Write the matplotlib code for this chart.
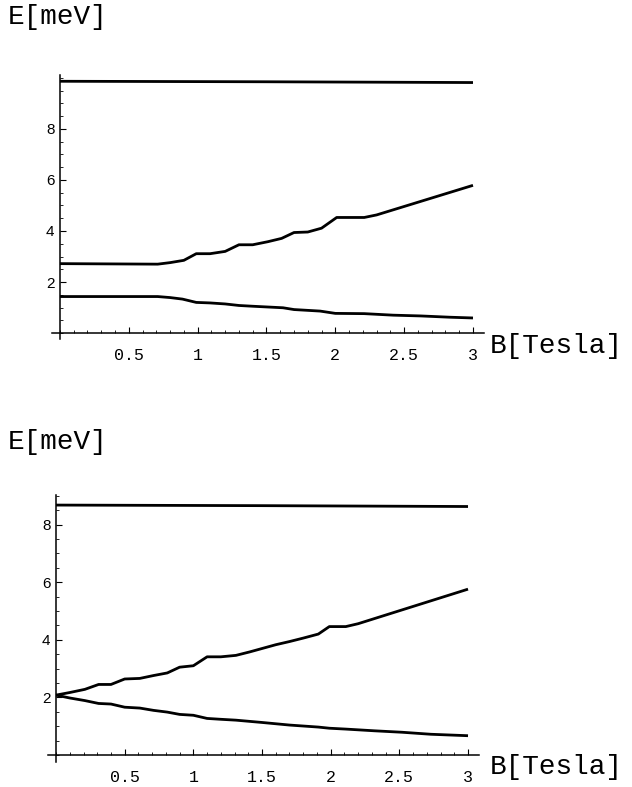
#!/usr/bin/env python3
"""Energy levels E[meV] versus magnetic field B[Tesla], two panels."""

import numpy as np
import matplotlib
matplotlib.use("Agg")
import matplotlib.pyplot as plt
from matplotlib.ticker import MultipleLocator, FixedLocator

# ---- panel 1 (top) -------------------------------------------------------
top_level_b = [0.0, 1.5, 3.0]
top_level_e = [9.87, 9.85, 9.82]

top_mid_b = [0.0, 0.71, 0.80, 0.90, 0.99, 1.09, 1.20, 1.30, 1.40, 1.51,
             1.61, 1.70, 1.80, 1.90, 2.01, 2.21, 2.30, 3.0]
top_mid_e = [2.72, 2.70, 2.76, 2.85, 3.11, 3.11, 3.20, 3.46, 3.46, 3.58,
             3.71, 3.94, 3.96, 4.11, 4.53, 4.53, 4.63, 5.79]

top_low_b = [0.0, 0.71, 0.80, 0.89, 0.99, 1.09, 1.20, 1.30, 1.40, 1.62,
             1.70, 1.89, 2.00, 2.21, 2.42, 2.62, 2.83, 3.0]
top_low_e = [1.43, 1.43, 1.39, 1.33, 1.20, 1.18, 1.14, 1.08, 1.05, 0.99,
             0.92, 0.86, 0.77, 0.76, 0.70, 0.67, 0.62, 0.59]

# ---- panel 2 (bottom) ----------------------------------------------------
bot_level_b = [0.0, 1.5, 3.0]
bot_level_e = [8.68, 8.66, 8.63]

bot_up_b = [0.0, 0.10, 0.21, 0.31, 0.40, 0.50, 0.61, 0.71, 0.81, 0.90,
            1.00, 1.10, 1.20, 1.31, 1.41, 1.60, 1.70, 1.80, 1.91, 1.99,
            2.11, 2.20, 3.0]
bot_up_e = [2.08, 2.17, 2.28, 2.45, 2.45, 2.64, 2.66, 2.76, 2.85, 3.05,
            3.10, 3.41, 3.41, 3.46, 3.58, 3.83, 3.94, 4.06, 4.20, 4.46,
            4.46, 4.56, 5.76]

bot_down_b = [0.0, 0.10, 0.21, 0.31, 0.40, 0.50, 0.61, 0.71, 0.81, 0.90,
              1.00, 1.10, 1.20, 1.31, 1.50, 1.70, 1.91, 1.99, 2.11, 2.32,
              2.52, 2.73, 3.0]
bot_down_e = [2.08, 1.98, 1.89, 1.79, 1.77, 1.66, 1.63, 1.55, 1.49, 1.41,
              1.38, 1.27, 1.24, 1.21, 1.13, 1.04, 0.97, 0.93, 0.90, 0.84,
              0.79, 0.72, 0.67]

x_ticks = [0.5, 1, 1.5, 2, 2.5, 3]
x_tick_labels = ["0.5", "1", "1.5", "2", "2.5", "3"]
y_ticks = [2, 4, 6, 8]

W, H = 632, 787
MONO = "Liberation Mono"
SANS = "Liberation Sans"


def style_axes(ax, ylim):
    """Mathematica-like crossing axes at the origin."""
    ax.set_xlim(-0.06, 3.08)
    ax.set_ylim(*ylim)
    for side in ("top", "right"):
        ax.spines[side].set_visible(False)
    ax.spines["left"].set_position(("data", 0))
    ax.spines["bottom"].set_position(("data", 0))
    for side in ("left", "bottom"):
        ax.spines[side].set_linewidth(1.1)
    ax.set_facecolor("none")

    ax.xaxis.set_major_locator(FixedLocator(x_ticks))
    ax.set_xticklabels(x_tick_labels, fontfamily=MONO, fontsize=12)
    ax.xaxis.set_minor_locator(MultipleLocator(0.1))
    ax.yaxis.set_major_locator(FixedLocator(y_ticks))
    ax.set_yticklabels([str(v) for v in y_ticks], fontfamily=SANS, fontsize=11)
    ax.yaxis.set_minor_locator(MultipleLocator(0.5))

    ax.tick_params(axis="both", which="major", direction="in", length=4, width=0.8)
    ax.tick_params(axis="both", which="minor", direction="in", length=2, width=0.6)
    ax.tick_params(axis="x", which="major", pad=11)
    ax.tick_params(axis="y", which="major", pad=4)


def draw_panel(fig, rect, ylim, curves, e_label_y, b_label_y):
    ax = fig.add_axes(rect)
    style_axes(ax, ylim)
    for b, e in curves:
        ax.plot(b, e, color="black", linewidth=2.0, solid_capstyle="butt")
    fig.text(8 / W, 1 - e_label_y / H, "E[meV]", fontfamily=MONO, fontsize=20,
             ha="left", va="center")
    fig.text(490 / W, 1 - b_label_y / H, "B[Tesla]", fontfamily=MONO, fontsize=20,
             ha="left", va="center")
    return ax


def main():
    fig = plt.figure(figsize=(W / 100, H / 100), dpi=100)

    draw_panel(
        fig, [51.7 / W, (H - 339.4) / H, 432.3 / W, 264.0 / H], (-0.25, 10.1),
        [(top_level_b, top_level_e), (top_mid_b, top_mid_e), (top_low_b, top_low_e)],
        e_label_y=17, b_label_y=346,
    )
    draw_panel(
        fig, [47.8 / W, (H - 762.2) / H, 431.2 / W, 267.2 / H], (-0.25, 9.03),
        [(bot_level_b, bot_level_e), (bot_up_b, bot_up_e), (bot_down_b, bot_down_e)],
        e_label_y=442, b_label_y=767,
    )

    fig.savefig("out.png", dpi=100, facecolor="white")
    plt.close(fig)


if __name__ == "__main__":
    main()
